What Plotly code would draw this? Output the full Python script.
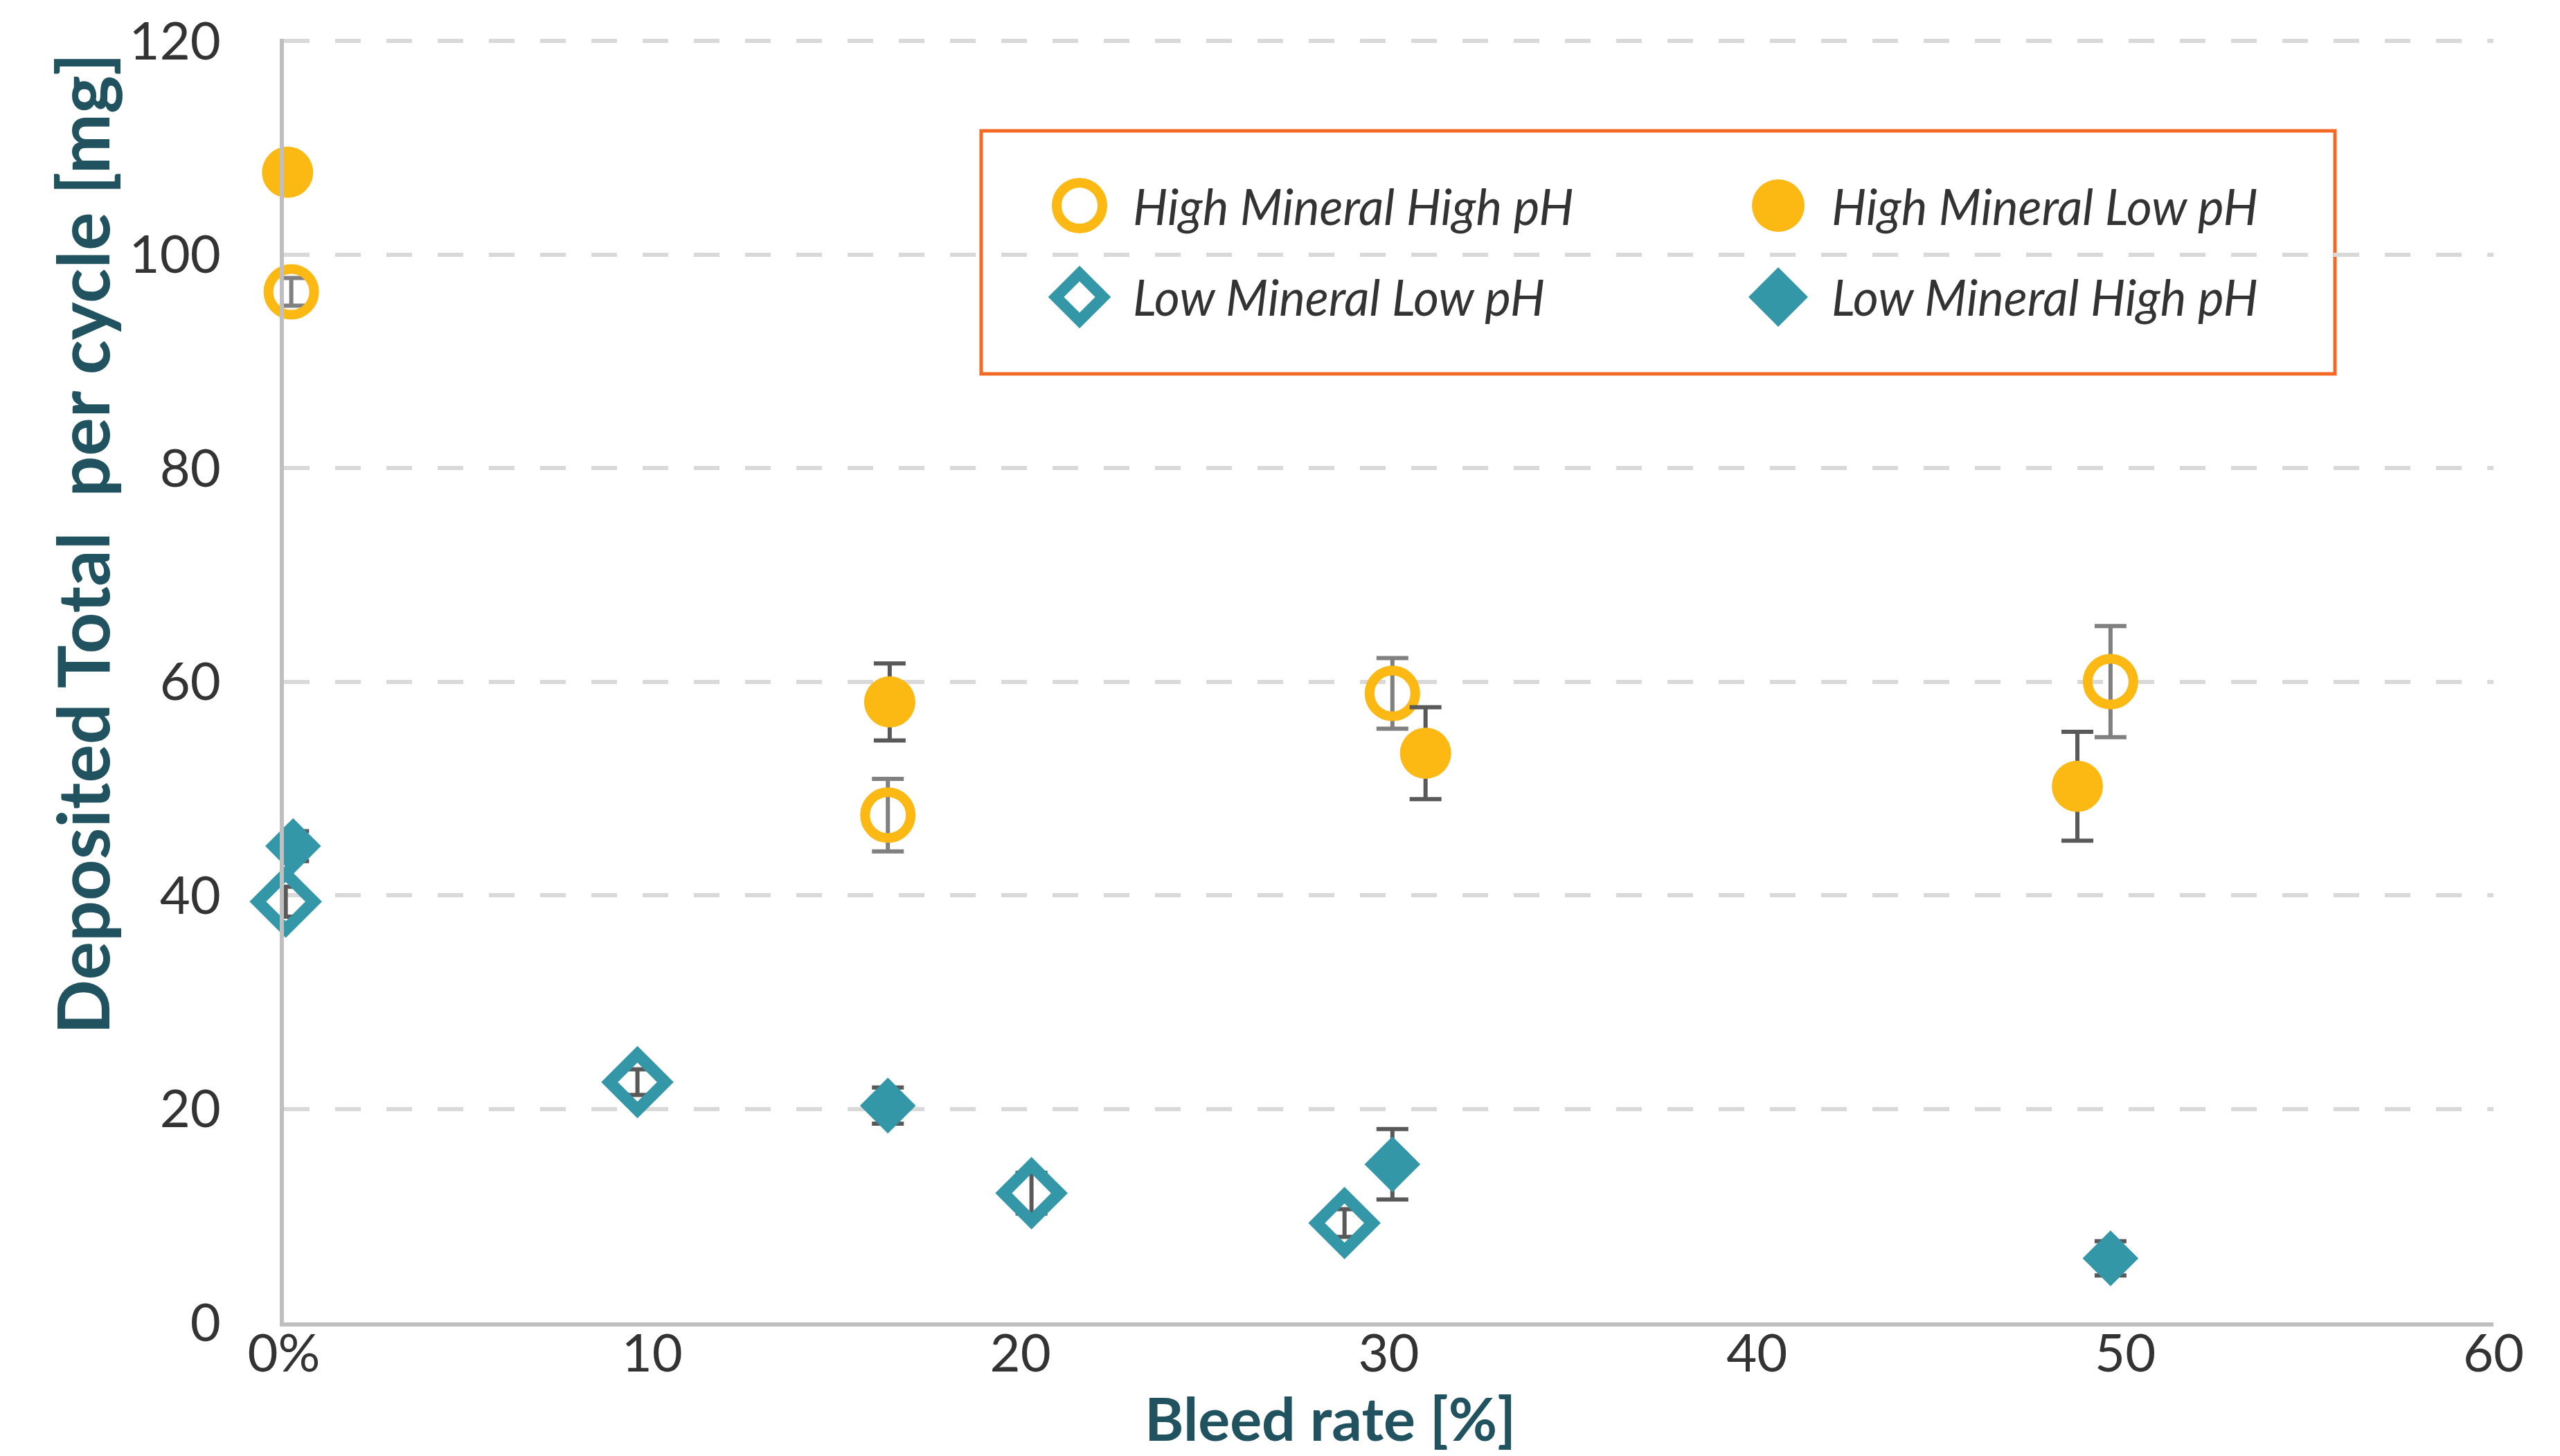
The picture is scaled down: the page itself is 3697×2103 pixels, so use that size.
import plotly.graph_objects as go

# ---- data: bleed rate [%] vs deposited total per cycle [mg], with +/- error ----
hmhp_x = [0.2, 16.4, 30.1, 49.6]
hmhp_y = [96.5, 47.5, 58.9, 60.0]
hmhp_err = [1.3, 3.4, 3.3, 5.2]

hmlp_x = [0.1, 16.45, 31.0, 48.7]
hmlp_y = [107.7, 58.1, 53.3, 50.2]
hmlp_err = [0.0, 3.6, 4.3, 5.1]

lmlp_x = [0.05, 9.6, 20.3, 28.8]
lmlp_y = [39.4, 22.5, 12.1, 9.3]
lmlp_err = [1.4, 1.2, 1.9, 1.3]

lmhp_x = [0.25, 16.4, 30.1, 49.6]
lmhp_y = [44.6, 20.3, 14.8, 6.0]
lmhp_err = [1.4, 1.7, 3.3, 1.6]

series_names = ["High Mineral High pH", "High Mineral Low pH",
                "Low Mineral Low pH", "Low Mineral High pH"]

x_ticks = [0, 10, 20, 30, 40, 50, 60]
x_ticklabels = ["0%", "10", "20", "30", "40", "50", "60"]
y_ticks = [0, 20, 40, 60, 80, 100, 120]

# ---- styling ----
YELLOW = "#FCB813"
TEAL = "#3497A7"
TITLE_COLOR = "#21525F"
TEXT_COLOR = "#333333"
AXIS_COLOR = "#BFBFBF"
GRID_COLOR = "#D9D9D9"
BAR_DARK = "#595959"
BAR_LIGHT = "#808080"
BOX_COLOR = "#F26A24"

W, H = 3697, 2103
M_L, M_R, M_T, M_B = 410, 96, 56, 193
PLOT_W = W - M_L - M_R
PLOT_H = H - M_T - M_B


def px_x(px):
    return (px - M_L) / PLOT_W


def px_y(py):
    return (H - M_B - py) / PLOT_H


styles = [
    dict(symbol="circle-open", color=YELLOW, size=66, lw=14, bar=BAR_LIGHT),
    dict(symbol="circle", color=YELLOW, size=74, lw=0, bar=BAR_DARK),
    dict(symbol="diamond-open", color=TEAL, size=62, lw=17, bar=BAR_DARK),
    dict(symbol="diamond", color=TEAL, size=62, lw=0, bar=BAR_DARK),
]
series = [
    (hmhp_x, hmhp_y, hmhp_err),
    (hmlp_x, hmlp_y, hmlp_err),
    (lmlp_x, lmlp_y, lmlp_err),
    (lmhp_x, lmhp_y, lmhp_err),
]

fig = go.Figure()
for name, (xs, ys, es), st in zip(series_names, series, styles):
    fig.add_trace(go.Scatter(
        x=xs, y=ys, name=name, mode="markers", cliponaxis=False,
        marker=dict(symbol=st["symbol"], color=st["color"], size=st["size"],
                    line=dict(width=st["lw"], color=st["color"])),
        error_y=dict(type="data", array=es, symmetric=True, visible=True,
                     color=st["bar"], thickness=6, width=23),
        showlegend=False,
    ))

# ---- legend box drawn as shapes + text ----
shapes = [dict(type="rect", xref="paper", yref="paper",
               x0=px_x(1417), x1=px_x(3372), y0=px_y(540), y1=px_y(189),
               line=dict(color=BOX_COLOR, width=5), fillcolor="white", layer="below")]
annotations = []
key_pos = [(1559, 297), (2568, 297), (1559, 429), (2568, 429)]
text_dx = 75
for name, st, (kx, ky) in zip(series_names, styles, key_pos):
    base = dict(xref="paper", yref="paper", xsizemode="pixel", ysizemode="pixel",
                xanchor=px_x(kx), yanchor=px_y(ky), layer="above")
    if st["symbol"] == "circle-open":
        shapes.append(dict(type="circle", x0=-33, x1=33, y0=-33, y1=33,
                           line=dict(color=st["color"], width=14),
                           fillcolor="rgba(0,0,0,0)", **base))
    elif st["symbol"] == "circle":
        shapes.append(dict(type="circle", x0=-38, x1=38, y0=-38, y1=38,
                           line=dict(width=0), fillcolor=st["color"], **base))
    elif st["symbol"] == "diamond-open":
        shapes.append(dict(type="path", path="M -34 0 L 0 34 L 34 0 L 0 -34 Z",
                           line=dict(color=st["color"], width=16),
                           fillcolor="rgba(0,0,0,0)", **base))
    else:
        shapes.append(dict(type="path", path="M -43 0 L 0 43 L 43 0 L 0 -43 Z",
                           line=dict(width=0), fillcolor=st["color"], **base))
    annotations.append(dict(
        text=name, xref="paper", yref="paper", x=px_x(kx + text_dx), y=px_y(ky),
        xanchor="left", yanchor="middle", showarrow=False,
        font=dict(family="Lato", size=71, color=TEXT_COLOR, style="italic"),
    ))

# ---- axis titles ----
annotations.append(dict(
    text="Deposited Total  per cycle [mg]", xref="paper", yref="paper",
    x=px_x(118), y=px_y(786), textangle=-90, showarrow=False,
    xanchor="center", yanchor="middle",
    font=dict(family="Lato", size=104, color=TITLE_COLOR, weight="bold"),
))
annotations.append(dict(
    text="Bleed rate [%]", xref="paper", yref="paper",
    x=px_x(1921), y=px_y(2101), showarrow=False,
    xanchor="center", yanchor="bottom",
    font=dict(family="Lato", size=86, color=TITLE_COLOR, weight="bold"),
))

fig.update_layout(
    width=W, height=H,
    margin=dict(l=M_L, r=M_R, t=M_T, b=M_B, pad=0),
    paper_bgcolor="white", plot_bgcolor="white",
    font=dict(family="Lato", color=TEXT_COLOR),
    shapes=shapes, annotations=annotations,
    showlegend=False,
)
fig.update_xaxes(
    range=[0, 60], tickvals=x_ticks, ticktext=x_ticklabels,
    showgrid=False, zeroline=False, showline=True, linecolor=AXIS_COLOR, linewidth=6,
    ticks="", tickfont=dict(family="Lato", size=76, color=TEXT_COLOR),
    ticklabelstandoff=-26,
)
fig.update_yaxes(
    range=[0, 120.2], tickvals=y_ticks,
    showgrid=True, gridcolor=GRID_COLOR, gridwidth=6, griddash="37px,37px",
    zeroline=False, showline=True, linecolor=AXIS_COLOR, linewidth=6,
    ticks="", tickfont=dict(family="Lato", size=76, color=TEXT_COLOR),
    ticklabelstandoff=70,
)

fig.write_html("out.html")
